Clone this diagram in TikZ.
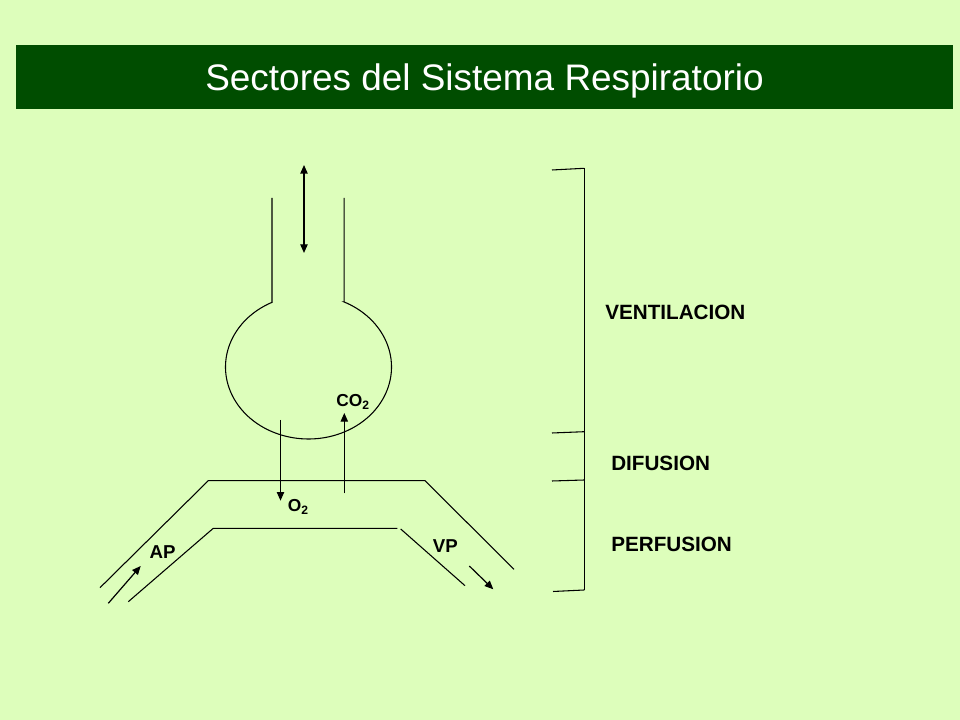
\documentclass[tikz,border=0pt]{standalone}
\usepackage{fontspec}
\setmainfont{Liberation Sans}
\usetikzlibrary{arrows.meta}
\definecolor{bgcol}{RGB}{221,254,187}
\definecolor{barcol}{RGB}{0,77,0}
\tikzset{
  wall/.style={line width=0.8pt, black},
  flow/.style={line width=0.9pt, black, -{Triangle[length=6.5pt,width=5.5pt]}},
  lbl/.style={inner sep=0pt, font=\bfseries\fontsize{15.5pt}{17pt}\selectfont},
  vlbl/.style={inner sep=0pt, font=\bfseries\fontsize{14pt}{16pt}\selectfont},
  gas/.style={inner sep=0pt, font=\bfseries\fontsize{13pt}{15pt}\selectfont},
}
\begin{document}
\begin{tikzpicture}[x=0.75pt,y=0.75pt]
\fill[bgcol] (0,0) rectangle (960,720);
\useasboundingbox (0,0) rectangle (960,720);
% title bar
\fill[barcol] (16,611) rectangle (953,675);
\node[anchor=base, inner sep=0pt, text=white, font=\fontsize{27.7pt}{30pt}\selectfont] (title) at (484.5,629) {Sectores del Sistema Respiratorio};
% alveolus
\coordinate (c) at (308.5,353);
\path (c) ++(116.2:62.25pt and 54pt) coordinate (jl);
\path (c) ++(64.6:62.25pt and 54pt) coordinate (jr);
\coordinate (tl) at (272,522);
\coordinate (tr) at (344.1,522);
\draw[wall] (tl) -- (tl |- jl) -- (jl) arc[start angle=116.2, end angle=424.6, x radius=62.25pt, y radius=54pt] -- (tr |- jr) -- (tr);
% airflow double arrow
\coordinate (a1) at (304,555);
\coordinate (a2) at (304,467);
\draw[flow, line width=1pt, {Triangle[length=6.5pt,width=5.5pt]}-{Triangle[length=6.5pt,width=5.5pt]}] (a1) -- (a2);
% capillary
\coordinate (o1) at (100,132.3);
\coordinate (o2) at (208.3,239.3);
\coordinate (o3) at (425,239.3);
\coordinate (o4) at (514,150.7);
\draw[wall] (o1) -- (o2) -- (o3) -- (o4);
\coordinate (i1) at (128.3,118.3);
\coordinate (i2) at (213.3,191.7);
\coordinate (i3) at (397.3,191.7);
\coordinate (i4) at (400.7,191);
\coordinate (i5) at (465,134.3);
\draw[wall] (i1) -- (i2) -- (i3);
\draw[wall] (i4) -- (i5);
% blood flow arrows
\coordinate (ap1) at (108.3,116.7);
\coordinate (ap2) at (140.7,154);
\draw[flow] (ap1) -- (ap2);
\coordinate (vp1) at (469.3,154);
\coordinate (vp2) at (493.3,130.7);
\draw[flow] (vp1) -- (vp2);
% gas exchange arrows
\coordinate (ox1) at (280.5,300);
\coordinate (ox2) at (280.5,219.3);
\draw[flow] (ox1) -- (ox2);
\coordinate (co1) at (344.3,226.7);
\coordinate (co2) at (344.3,307);
\draw[flow] (co1) -- (co2);
% labels
\node[gas, anchor=base west] (lco2) at (336,313.3) {CO\textsubscript{2}};
\node[gas, anchor=base west] (lo2) at (287.7,208.3) {O\textsubscript{2}};
\node[vlbl, anchor=base west] (lap) at (149.3,161.7) {AP};
\node[vlbl, anchor=base west] (lvp) at (432.7,167.3) {VP};
% bracket
\coordinate (b1) at (584.3,551.7);
\coordinate (b2) at (584.3,130);
\draw[wall] (b1) -- (b2);
\coordinate (t1) at (552,550);
\coordinate (t2) at (552,287);
\coordinate (t3) at (552,239);
\coordinate (t4) at (553,128.5);
\draw[wall] (t1) -- (b1);
\draw[wall] (t2) -- (584.3,288.3);
\draw[wall] (t3) -- (584.3,240);
\draw[wall] (t4) -- (b2);
\node[lbl, anchor=base west] (vent) at (605,400) {VENTILACION};
\node[lbl, anchor=base west] (dif) at (611,249.3) {DIFUSION};
\node[lbl, anchor=base west] (perf) at (611,168.3) {PERFUSION};
\end{tikzpicture}
\end{document}
